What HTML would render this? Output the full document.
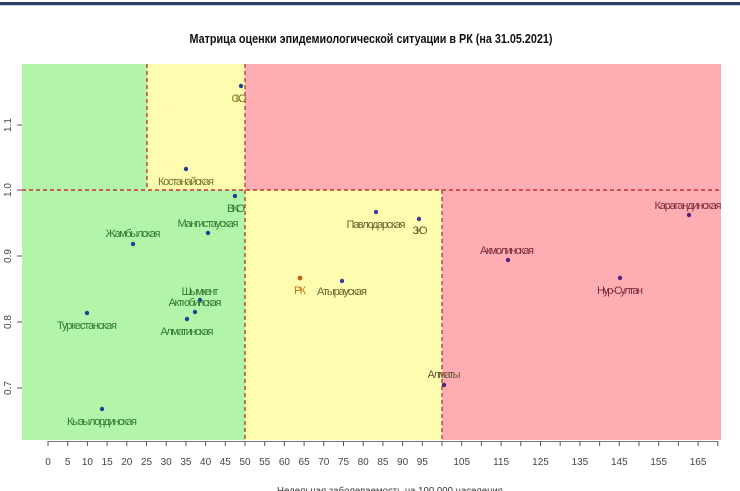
<!DOCTYPE html>
<html>
<head>
<meta charset="utf-8">
<style>
html,body{margin:0;padding:0;background:#fff;}
svg{display:block;}
text{font-family:"Liberation Sans","DejaVu Sans",sans-serif;}
</style>
</head>
<body>
<svg width="740" height="491" viewBox="0 0 740 491" xmlns="http://www.w3.org/2000/svg">
  <rect x="0" y="0" width="740" height="491" fill="#ffffff"/>
  <rect x="0" y="2" width="740" height="3" fill="#2b3f66"/>
  <rect x="0" y="5" width="740" height="1" fill="#c9d2e2"/>

  <!-- title -->
  <text x="371" y="43" font-size="13" font-weight="bold" text-anchor="middle" textLength="363" lengthAdjust="spacingAndGlyphs" fill="#111">Матрица оценки эпидемиологической ситуации в РК (на 31.05.2021)</text>

  <!-- zones -->
  <rect x="22" y="64" width="125" height="126" fill="#b2f5a8"/>
  <rect x="147" y="64" width="98" height="126" fill="#fefdaf"/>
  <rect x="245" y="64" width="476" height="126" fill="#feaeb3"/>
  <rect x="22" y="190" width="223" height="250" fill="#b2f5a8"/>
  <rect x="245" y="190" width="197" height="250" fill="#fefdaf"/>
  <rect x="442" y="190" width="279" height="250" fill="#feaeb3"/>

  <!-- dashed lines -->
  <g stroke="#c0483a" stroke-width="1.5" stroke-dasharray="4,3" fill="none">
    <line x1="22" y1="190" x2="721" y2="190" stroke="#cc3030"/>
    <line x1="147" y1="64" x2="147" y2="190"/>
    <line x1="245" y1="64" x2="245" y2="440"/>
    <line x1="442" y1="190" x2="442" y2="440"/>
  </g>

  <!-- y axis ticks -->
  <g stroke="#555" stroke-width="1">
    <line x1="17" y1="125" x2="22" y2="125"/>
    <line x1="17" y1="190" x2="22" y2="190"/>
    <line x1="17" y1="256" x2="22" y2="256"/>
    <line x1="17" y1="322" x2="22" y2="322"/>
    <line x1="17" y1="388" x2="22" y2="388"/>
  </g>
  <g font-size="10" fill="#444" text-anchor="middle">
    <text transform="translate(11,125) rotate(-90)">1.1</text>
    <text transform="translate(11,190) rotate(-90)">1.0</text>
    <text transform="translate(11,256) rotate(-90)">0.9</text>
    <text transform="translate(11,322) rotate(-90)">0.8</text>
    <text transform="translate(11,388) rotate(-90)">0.7</text>
  </g>

  <!-- x axis -->
  <line x1="48" y1="441.5" x2="718" y2="441.5" stroke="#777" stroke-width="1"/>
  <g stroke="#555" stroke-width="1">
    <line x1="48" y1="441" x2="48" y2="446"/><line x1="67.7" y1="441" x2="67.7" y2="446"/><line x1="87.4" y1="441" x2="87.4" y2="446"/><line x1="107.1" y1="441" x2="107.1" y2="446"/><line x1="126.8" y1="441" x2="126.8" y2="446"/><line x1="146.5" y1="441" x2="146.5" y2="446"/><line x1="166.2" y1="441" x2="166.2" y2="446"/><line x1="185.9" y1="441" x2="185.9" y2="446"/><line x1="205.6" y1="441" x2="205.6" y2="446"/><line x1="225.3" y1="441" x2="225.3" y2="446"/><line x1="245" y1="441" x2="245" y2="446"/><line x1="264.7" y1="441" x2="264.7" y2="446"/><line x1="284.4" y1="441" x2="284.4" y2="446"/><line x1="304.1" y1="441" x2="304.1" y2="446"/><line x1="323.8" y1="441" x2="323.8" y2="446"/><line x1="343.5" y1="441" x2="343.5" y2="446"/><line x1="363.2" y1="441" x2="363.2" y2="446"/><line x1="382.9" y1="441" x2="382.9" y2="446"/><line x1="402.6" y1="441" x2="402.6" y2="446"/><line x1="422.3" y1="441" x2="422.3" y2="446"/><line x1="442" y1="441" x2="442" y2="446"/><line x1="461.7" y1="441" x2="461.7" y2="446"/><line x1="481.4" y1="441" x2="481.4" y2="446"/><line x1="501.1" y1="441" x2="501.1" y2="446"/><line x1="520.8" y1="441" x2="520.8" y2="446"/><line x1="540.5" y1="441" x2="540.5" y2="446"/><line x1="560.2" y1="441" x2="560.2" y2="446"/><line x1="579.9" y1="441" x2="579.9" y2="446"/><line x1="599.6" y1="441" x2="599.6" y2="446"/><line x1="619.3" y1="441" x2="619.3" y2="446"/><line x1="639" y1="441" x2="639" y2="446"/><line x1="658.7" y1="441" x2="658.7" y2="446"/><line x1="678.4" y1="441" x2="678.4" y2="446"/><line x1="698.1" y1="441" x2="698.1" y2="446"/><line x1="717.8" y1="441" x2="717.8" y2="446"/>
  </g>
  <g font-size="10" fill="#444" text-anchor="middle">
    <text x="48" y="465">0</text><text x="67.7" y="465">5</text><text x="87.4" y="465">10</text><text x="107.1" y="465">15</text><text x="126.8" y="465">20</text><text x="146.5" y="465">25</text><text x="166.2" y="465">30</text><text x="185.9" y="465">35</text><text x="205.6" y="465">40</text><text x="225.3" y="465">45</text><text x="245" y="465">50</text><text x="264.7" y="465">55</text><text x="284.4" y="465">60</text><text x="304.1" y="465">65</text><text x="323.8" y="465">70</text><text x="343.5" y="465">75</text><text x="363.2" y="465">80</text><text x="382.9" y="465">85</text><text x="402.6" y="465">90</text><text x="422.3" y="465">95</text><text x="461.7" y="465">105</text><text x="501.1" y="465">115</text><text x="540.5" y="465">125</text><text x="579.9" y="465">135</text><text x="619.3" y="465">145</text><text x="658.7" y="465">155</text><text x="698.1" y="465">165</text>
  </g>
  <text x="390" y="494" font-size="10" fill="#333" text-anchor="middle" textLength="226" lengthAdjust="spacingAndGlyphs">Недельная заболеваемость на 100 000 населения</text>

  <!-- points -->
  <g fill="#1f3f9a">
    <circle cx="241" cy="86" r="2.2"/>
    <circle cx="186" cy="169" r="2.2"/>
    <circle cx="235" cy="196" r="2.2"/>
    <circle cx="208" cy="233" r="2.2"/>
    <circle cx="133" cy="244" r="2.2"/>
    <circle cx="200" cy="300" r="2.2"/>
    <circle cx="195" cy="312" r="2.2"/>
    <circle cx="187" cy="319" r="2.2"/>
    <circle cx="87" cy="313" r="2.2"/>
    <circle cx="102" cy="409" r="2.2"/>
    <circle cx="376" cy="212" r="2.2" fill="#3a3a9a"/>
    <circle cx="419" cy="219" r="2.2" fill="#3a3a9a"/>
    <circle cx="342" cy="281" r="2.2" fill="#3a3a9a"/>
  </g>
  <circle cx="300" cy="278" r="2.4" fill="#c8601a"/>
  <g fill="#55207a">
    <circle cx="689" cy="215" r="2.2"/>
    <circle cx="508" cy="260" r="2.2"/>
    <circle cx="620" cy="278" r="2.2"/>
    <circle cx="444" cy="385" r="2.2"/>
  </g>

  <!-- labels -->
  <g font-size="11" text-anchor="middle" lengthAdjust="spacingAndGlyphs">
    <text x="239" y="102" fill="#8a7a30" textLength="15">СКО</text>
    <text x="186" y="185" fill="#7a7030" textLength="56">Костанайская</text>
    <text x="236" y="212" fill="#2e7a35" textLength="18">ВКО</text>
    <text x="208" y="227" fill="#2e7a35" textLength="61">Мангистауская</text>
    <text x="133" y="237" fill="#2e7a35" textLength="55">Жамбылская</text>
    <text x="200" y="295" fill="#2e7a35" textLength="37">Шымкент</text>
    <text x="195" y="306" fill="#2e7a35" textLength="53">Актюбинская</text>
    <text x="187" y="335" fill="#2e7a35" textLength="53">Алматинская</text>
    <text x="87" y="329" fill="#2e7a35" textLength="60">Туркестанская</text>
    <text x="102" y="425" fill="#2e7a35" textLength="70">Кызылординская</text>
    <text x="376" y="228" fill="#6a6430" textLength="59">Павлодарская</text>
    <text x="420" y="234" fill="#6a6430" textLength="15">ЗКО</text>
    <text x="300" y="294" fill="#c8701a" textLength="12">РК</text>
    <text x="342" y="295" fill="#6a6430" textLength="50">Атырауская</text>
    <text x="688" y="209" fill="#7a2a35" textLength="67">Карагандинская</text>
    <text x="507" y="254" fill="#7a2a35" textLength="54">Акмолинская</text>
    <text x="620" y="294" fill="#7a2a35" textLength="46">Нур-Султан</text>
    <text x="444" y="378" fill="#6a5a35" textLength="33">Алматы</text>
  </g>
</svg>
</body>
</html>
